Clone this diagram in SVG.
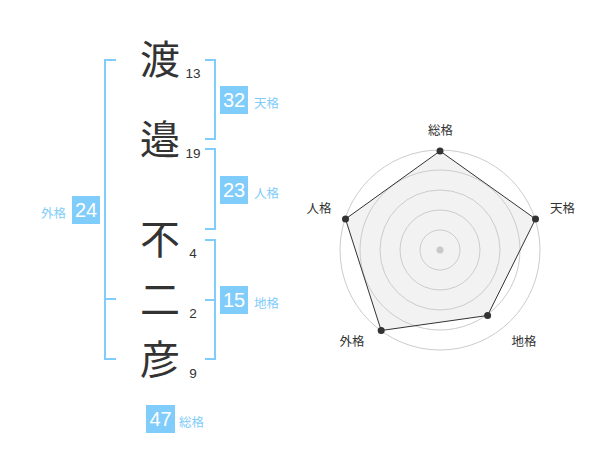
<svg xmlns="http://www.w3.org/2000/svg" width="600" height="470" viewBox="0 0 600 470">
<style>
.kanji{font-family:"Noto Sans CJK JP","Noto Sans CJK SC",sans-serif;font-size:40px;fill:#333;text-anchor:middle}
.num{font-family:"Liberation Sans",Arial,sans-serif;font-size:13.5px;fill:#333;text-anchor:middle}
.br{fill:none;stroke:#80ccfa;stroke-width:2}
.box{fill:#80ccfa}
.bt{font-family:"Liberation Sans",Arial,sans-serif;font-size:20px;fill:#fff;text-anchor:middle}
.lab{font-family:"Noto Sans CJK JP","Noto Sans CJK SC",sans-serif;font-size:12.5px;fill:#80ccfa}
.rl{font-family:"Noto Sans CJK JP","Noto Sans CJK SC",sans-serif;font-size:12.5px;fill:#333;text-anchor:middle}
.ring{fill:none;stroke:#cccccc;stroke-width:1}
.dot{fill:#333}
</style>
<rect width="600" height="470" fill="#fff"/>
<g id="name">
<g id="c1"><text class="kanji" x="160" y="74">渡</text><text class="num" x="193" y="78">13</text></g>
<g id="c2"><text class="kanji" x="160" y="154">邉</text><text class="num" x="193" y="158">19</text></g>
<g id="c3"><text class="kanji" x="160" y="254">不</text><text class="num" x="193" y="258">4</text></g>
<g id="c4"><text class="kanji" x="160" y="314">二</text><text class="num" x="193" y="318">2</text></g>
<g id="c5"><text class="kanji" x="160" y="374">彦</text><text class="num" x="193" y="378">9</text></g>
</g>
<g id="connectors">
<path class="br" d="M205,60 H215 V139 H205"/>
<path class="br" d="M205,149 H215 V229 H205"/>
<path class="br" d="M205,240 H215 V359 H205 M215,300 H205"/>
<path class="br" d="M116,60 H105 V359 H116 M105,299 H116"/>
</g>
<g id="tenkaku"><rect class="box" x="220" y="86" width="28" height="28"/><text class="bt" x="234" y="107">32</text><text class="lab" x="254" y="108">天格</text></g>
<g id="jinkaku"><rect class="box" x="220" y="176" width="28" height="28"/><text class="bt" x="234" y="197">23</text><text class="lab" x="254" y="198">人格</text></g>
<g id="chikaku"><rect class="box" x="220" y="286" width="28" height="28"/><text class="bt" x="234" y="307">15</text><text class="lab" x="254" y="308">地格</text></g>
<g id="gaikaku"><rect class="box" x="72" y="196" width="28" height="28"/><text class="bt" x="86" y="217">24</text><text class="lab" x="41" y="218">外格</text></g>
<g id="soukaku"><rect class="box" x="146" y="405" width="29" height="28"/><text class="bt" x="160.5" y="426">47</text><text class="lab" x="179" y="427">総格</text></g>
<g id="radar">
<polygon points="440,151 535.5,219 487.6,315.5 381.2,330.5 345.5,219" fill="#f2f2f2"/>
<circle class="ring" cx="440" cy="250" r="20"/>
<circle class="ring" cx="440" cy="250" r="40"/>
<circle class="ring" cx="440" cy="250" r="60"/>
<circle class="ring" cx="440" cy="250" r="80"/>
<circle class="ring" cx="440" cy="250" r="100"/>
<polygon points="440,151 535.5,219 487.6,315.5 381.2,330.5 345.5,219" fill="none" stroke="#333" stroke-width="1"/>
<circle cx="440" cy="250" r="3.5" fill="#c8c8c8"/>
<circle class="dot" cx="440" cy="151" r="3.5"/>
<circle class="dot" cx="535.5" cy="219" r="3.5"/>
<circle class="dot" cx="487.6" cy="315.5" r="3.5"/>
<circle class="dot" cx="381.2" cy="330.5" r="3.5"/>
<circle class="dot" cx="345.5" cy="219" r="3.5"/>
<text class="rl" x="440.5" y="135">総格</text>
<text class="rl" x="562.5" y="213">天格</text>
<text class="rl" x="319" y="213">人格</text>
<text class="rl" x="352" y="346">外格</text>
<text class="rl" x="524" y="346">地格</text>
</g>
</svg>
